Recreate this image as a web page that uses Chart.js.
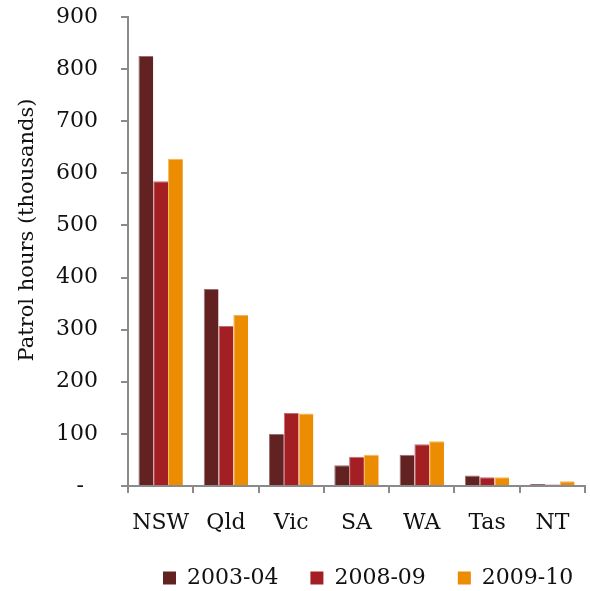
<!DOCTYPE html>
<html>
<head>
<meta charset="utf-8">
<script src="https://cdn.jsdelivr.net/npm/chart.js@4"></script>
<style>
  html, body { margin: 0; padding: 0; background: #ffffff; }
  #wrap { width: 590px; height: 591px; }
</style>
</head>
<body>
<div id="wrap"><canvas id="chart" width="590" height="591"></canvas></div>
<script>
// Patrol hours by jurisdiction, thousands
const jurisdictions = ['NSW', 'Qld', 'Vic', 'SA', 'WA', 'Tas', 'NT'];
const years = ['2003-04', '2008-09', '2009-10'];
const hours2003_04 = [825, 378, 100, 40, 60, 20, 4];
const hours2008_09 = [585, 307, 140, 56, 80, 17, 3];
const hours2009_10 = [628, 328, 139, 60, 86, 17, 9];
const yTicks = [0, 100, 200, 300, 400, 500, 600, 700, 800, 900];
const yTitle = 'Patrol hours (thousands)';

const seriesColours = ['#632222', '#A31F23', '#EC8C00'];
const edgeColours = ['#9A6F6F', '#C36C70', '#F3B559'];
const FONT = 'DejaVu Serif';
const TEXT = '#111111';
const AXIS = '#8a8a8a';

const seriesValues = [hours2003_04, hours2008_09, hours2009_10];

// Rotated axis title, placed by hand
const axisTitle = {
  id: 'axisTitle',
  afterDraw(chart) {
    const ctx = chart.ctx;
    ctx.save();
    ctx.translate(28, 230);
    ctx.rotate(-Math.PI / 2);
    ctx.font = '21px "' + FONT + '"';
    ctx.fillStyle = TEXT;
    ctx.textAlign = 'center';
    ctx.textBaseline = 'middle';
    ctx.fillText(yTitle, 0, 0);
    ctx.restore();
  }
};

// Shift the legend row to sit under the plot
const legendShift = {
  id: 'legendShift',
  afterLayout(chart) {
    if (chart.legend) {
      chart.legend.left = 131;
      chart.legend.right = 760;
    }
  }
};

new Chart(document.getElementById('chart'), {
  type: 'bar',
  data: {
    labels: jurisdictions,
    datasets: years.map((y, i) => ({
      label: y,
      data: seriesValues[i],
      backgroundColor: seriesColours[i],
      borderColor: edgeColours[i],
      borderWidth: { top: 1, left: 1, right: 0, bottom: 0 },
      borderSkipped: false,
      categoryPercentage: 0.68,
      barPercentage: 1.0
    }))
  },
  options: {
    responsive: false,
    animation: false,
    devicePixelRatio: 1,
    layout: { padding: { top: 17, right: 5, left: 0, bottom: 0 } },
    plugins: {
      tooltip: { enabled: false },
      title: { display: false },
      legend: {
        position: 'bottom',
        align: 'start',
        maxHeight: 56,
        labels: {
          boxWidth: 13,
          boxHeight: 13,
          padding: 32,
          color: TEXT,
          font: { family: FONT, size: 22 },
          generateLabels(chart) {
            return chart.data.datasets.map((ds, i) => ({
              text: ds.label,
              fillStyle: seriesColours[i],
              strokeStyle: seriesColours[i],
              lineWidth: 0,
              hidden: false,
              datasetIndex: i,
              fontColor: TEXT
            }));
          }
        }
      }
    },
    scales: {
      x: {
        afterFit(scale) {
          scale.height = 49;
          scale.paddingLeft = 0;
          scale.paddingRight = 0;
        },
        grid: {
          display: true,
          drawOnChartArea: false,
          drawTicks: true,
          tickLength: 7,
          color: AXIS,
          lineWidth: 2,
          offset: true
        },
        border: { display: true, color: AXIS, width: 2 },
        ticks: {
          color: TEXT,
          padding: 17,
          font: { family: FONT, size: 22 },
          maxRotation: 0
        }
      },
      y: {
        min: 0,
        max: 900,
        afterFit(scale) {
          scale.width = 128;
          scale.paddingTop = 0;
          scale.paddingBottom = 0;
        },
        afterBuildTicks(scale) {
          scale.ticks = yTicks.map(v => ({ value: v }));
        },
        grid: {
          display: true,
          drawOnChartArea: false,
          drawTicks: true,
          tickLength: 7,
          color: AXIS,
          lineWidth: 2
        },
        border: { display: true, color: AXIS, width: 2 },
        ticks: {
          color: TEXT,
          padding: 23,
          font: { family: FONT, size: 22 },
          callback: (v) => (v === 0 ? '-  ' : String(v))
        }
      }
    }
  },
  plugins: [axisTitle, legendShift]
});
</script>
</body>
</html>
